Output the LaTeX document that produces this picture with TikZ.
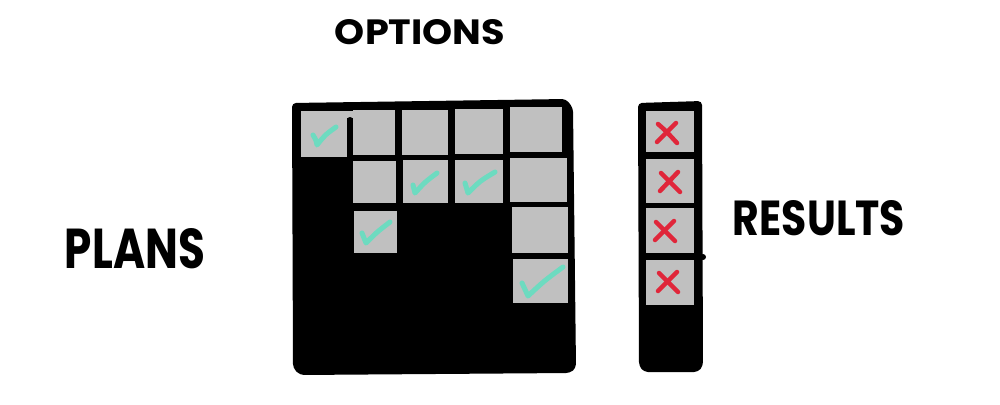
\documentclass[tikz,border=0pt]{standalone}
\usepackage{fontspec}
\usepackage{graphicx}
\setmainfont{Poppins}
\definecolor{cellgray}{HTML}{C0C0C0}
\definecolor{mint}{HTML}{6DDBC0}
\definecolor{xred}{HTML}{E0263A}
\tikzset{
  cell/.style={fill=cellgray},
  chk/.style={draw=mint, line width=5pt, line cap=round, line join=round},
  xmark/.style={draw=xred, line width=4.5pt, line cap=round},
  lbl/.style={inner sep=0pt, text=black}
}
\begin{document}
\begin{tikzpicture}[x=1pt,y=-1pt]
\useasboundingbox (0,0) rectangle (1000,404);
% labels
\node[lbl] (options) at (420,32) {\resizebox{170pt}{25pt}{\bfseries OPTIONS}};
\node[lbl] (plans) at (135,249) {\resizebox{140pt}{40pt}{\bfseries PLANS}};
\node[lbl] (results) at (819,218) {\resizebox{172pt}{35pt}{\bfseries RESULTS}};
% main grid background
\fill[black, rounded corners=4pt] (292,103) -- (566,99) -- (573,108) -- (576,368) -- (570,373) -- (300,375) -- (293,368) -- cycle;
% row 1
\fill[cell] (301,111) rectangle (347,157);
\fill[cell] (353,110) rectangle (395,155);
\fill[cell] (402,110) rectangle (448,155);
\fill[cell] (455,109) rectangle (503,154);
\fill[cell] (510,107) rectangle (562,152);
\fill[cell] (346,111) rectangle (354,118);
\draw[black, line width=6pt, line cap=round] (350,120) -- (350,160);
% row 2
\fill[cell] (353,161) rectangle (396,203);
\fill[cell] (403,160) rectangle (448,203);
\fill[cell] (455,160) rectangle (503,203);
\fill[cell] (510,158) rectangle (567,202);
% row 3
\fill[cell] (354,211) rectangle (397,253);
\fill[cell] (512,207) rectangle (568,253);
% row 4
\fill[cell] (513,259) rectangle (568,303);
% checks
\draw[chk] (313,135) .. controls (316,140) .. (317,145) .. controls (325,135) .. (336,127);
\draw[chk] (413,185) .. controls (414,189) .. (415,193) .. controls (425,182) .. (437,173);
\draw[chk] (465,183) .. controls (467,188) .. (468,193) .. controls (480,181) .. (495,172);
\draw[chk] (362,233) .. controls (364,238) .. (366,243) .. controls (377,232) .. (390,222);
\draw[chk] (522,283) .. controls (525,290) .. (528,296) .. controls (544,281) .. (563,267);
% results column
\fill[black, rounded corners=4pt] (638,103) -- (702,101) -- (703,366) -- (698,372) -- (644,372) -- (639,366) -- cycle;
\fill[black] (703,257) circle (3pt);
\fill[cell] (646,111) rectangle (694,152);
\fill[cell] (646,159) rectangle (694,203);
\fill[cell] (646,208) rectangle (694,253);
\fill[cell] (646,260) rectangle (694,305);
% red crosses
\draw[xmark] (658,124) .. controls (666,131) .. (677,143);
\draw[xmark] (676,123) .. controls (666,132) .. (657,142);
\draw[xmark] (661,173) .. controls (669,181) .. (680,192);
\draw[xmark] (678,172) .. controls (669,181) .. (660,191);
\draw[xmark] (656,222) .. controls (664,230) .. (675,241);
\draw[xmark] (674,221) .. controls (665,230) .. (655,240);
\draw[xmark] (659,273) .. controls (667,281) .. (678,292);
\draw[xmark] (677,272) .. controls (668,281) .. (658,291);
\end{tikzpicture}
\end{document}
